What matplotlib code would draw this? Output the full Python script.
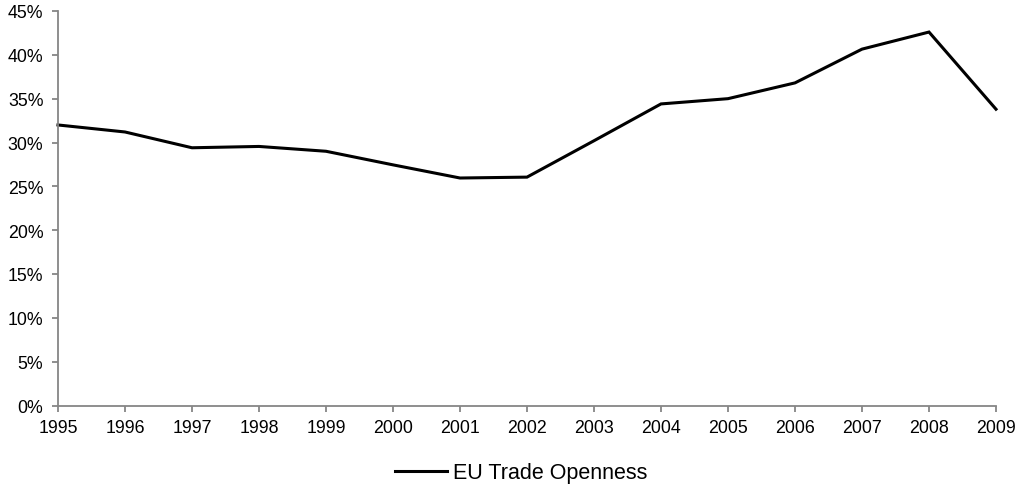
import matplotlib
matplotlib.use("Agg")
import matplotlib.pyplot as plt
from matplotlib.ticker import FuncFormatter
from matplotlib.lines import Line2D

plt.rcParams['font.family'] = ['Liberation Sans', 'DejaVu Sans']

years = [1995, 1996, 1997, 1998, 1999, 2000, 2001, 2002, 2003, 2004, 2005, 2006, 2007, 2008, 2009]
openness = [32.0, 31.2, 29.4, 29.55, 29.0, 27.45, 25.95, 26.05, 30.2, 34.4, 35.0, 36.8, 40.65, 42.6, 33.8]
series_label = "EU Trade Openness"

W, H = 1015, 489
fig = plt.figure(figsize=(W / 100, H / 100), dpi=100)
ax = fig.add_axes([58 / W, 1 - 406.5 / H, (996 - 58) / W, (406.5 - 12) / H])

ax.plot(years, openness, color='black', linewidth=2.2, solid_joinstyle='miter', clip_on=False)

ax.set_xlim(1995, 2009)
ax.set_ylim(0, 45)
ax.set_xticks(years)
ax.set_yticks(range(0, 46, 5))
ax.yaxis.set_major_formatter(FuncFormatter(lambda v, p: f"{int(v)}%"))

gray = '#868686'
for s in ['top', 'right']:
    ax.spines[s].set_visible(False)
for s in ['left', 'bottom']:
    ax.spines[s].set_color(gray)
    ax.spines[s].set_linewidth(1.3)
ax.tick_params(axis='both', direction='out', length=4.5, width=1.3, color=gray,
               labelsize=12.8, labelcolor='black')
ax.tick_params(axis='x', pad=5)
ax.tick_params(axis='y', pad=6)

handle = Line2D([], [], color='black', linewidth=2.2)
fig.legend([handle], [series_label], loc='center', bbox_to_anchor=(521 / W, 1 - 474 / H),
           frameon=False, fontsize=15.5, handlelength=2.45, handletextpad=0.25)

fig.savefig("out.png", dpi=100)
